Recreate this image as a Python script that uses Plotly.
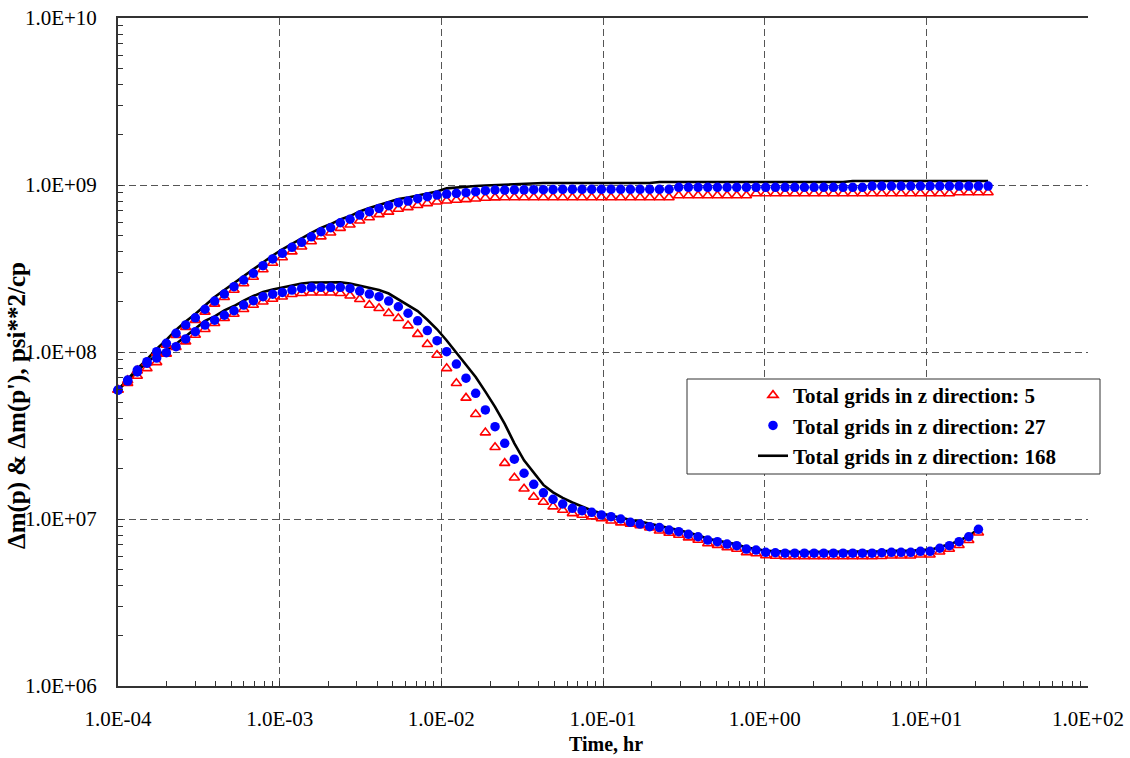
import plotly.graph_objects as go

# Simulation output times (hr)
times_hr = [
    1.00e-4, 1.148e-4, 1.317e-4, 1.511e-4, 1.735e-4, 1.991e-4, 2.285e-4, 2.622e-4, 3.009e-4, 3.453e-4,
    3.963e-4, 4.548e-4, 5.220e-4, 5.990e-4, 6.875e-4, 7.889e-4, 9.054e-4, 1.039e-3, 1.192e-3, 1.368e-3,
    1.570e-3, 1.802e-3, 2.068e-3, 2.373e-3, 2.724e-3, 3.126e-3, 3.587e-3, 4.117e-3, 4.724e-3, 5.422e-3,
    6.223e-3, 7.141e-3, 8.195e-3, 9.406e-3, 1.079e-2, 1.239e-2, 1.421e-2, 1.631e-2, 1.872e-2, 2.149e-2,
    2.466e-2, 2.830e-2, 3.248e-2, 3.728e-2, 4.278e-2, 4.909e-2, 5.634e-2, 6.466e-2, 7.421e-2, 8.516e-2,
    9.772e-2, 0.1121, 0.1287, 0.1477, 0.1695, 0.1945, 0.2233, 0.2562, 0.2940, 0.3374,
    0.3873, 0.4444, 0.5100, 0.5853, 0.6717, 0.7709, 0.8847, 1.015, 1.165, 1.337,
    1.535, 1.761, 2.021, 2.320, 2.662, 3.055, 3.506, 4.024, 4.618, 5.299,
    6.081, 6.979, 8.010, 9.192, 10.55, 12.11, 13.89, 15.94, 18.30, 21.00,
    24.10,
]

# Pseudo-pressure change, delta m(p), psi^2/cp
dm_5 = [
    5.92e7, 6.76e7, 7.73e7, 8.63e7, 9.86e7, 1.102e8, 1.259e8, 1.406e8, 1.549e8, 1.738e8,
    1.941e8, 2.128e8, 2.350e8, 2.570e8, 2.812e8, 3.119e8, 3.412e8, 3.681e8, 3.990e8, 4.266e8,
    4.592e8, 4.909e8, 5.176e8, 5.521e8, 5.781e8, 6.109e8, 6.383e8, 6.668e8, 6.902e8, 7.178e8,
    7.345e8, 7.568e8, 7.762e8, 7.943e8, 8.054e8, 8.128e8, 8.204e8, 8.279e8, 8.36e8, 8.40e8,
    8.41e8, 8.41e8, 8.41e8, 8.41e8, 8.41e8, 8.41e8, 8.41e8, 8.41e8, 8.41e8, 8.41e8,
    8.41e8, 8.41e8, 8.41e8, 8.41e8, 8.41e8, 8.41e8, 8.41e8, 8.41e8, 8.65e8, 8.65e8,
    8.65e8, 8.65e8, 8.65e8, 8.65e8, 8.65e8, 8.65e8, 8.89e8, 8.89e8, 8.89e8, 8.89e8,
    8.89e8, 8.89e8, 8.89e8, 8.89e8, 8.89e8, 8.89e8, 8.89e8, 8.89e8, 8.89e8, 8.89e8,
    8.89e8, 8.89e8, 8.89e8, 8.89e8, 8.89e8, 8.89e8, 8.89e8, 9.02e8, 9.02e8, 9.02e8,
    9.02e8,
]
dm_27 = [
    5.92e7, 6.79e7, 7.80e7, 8.75e7, 1.005e8, 1.127e8, 1.294e8, 1.452e8, 1.603e8, 1.803e8,
    2.018e8, 2.223e8, 2.460e8, 2.698e8, 2.958e8, 3.289e8, 3.606e8, 3.899e8, 4.236e8, 4.539e8,
    4.898e8, 5.248e8, 5.546e8, 5.943e8, 6.237e8, 6.607e8, 6.918e8, 7.244e8, 7.516e8, 7.834e8,
    8.017e8, 8.279e8, 8.511e8, 8.710e8, 8.831e8, 8.913e8, 8.995e8, 9.120e8, 9.247e8, 9.333e8,
    9.33e8, 9.35e8, 9.36e8, 9.37e8, 9.38e8, 9.39e8, 9.42e8, 9.42e8, 9.42e8, 9.42e8,
    9.42e8, 9.42e8, 9.42e8, 9.42e8, 9.42e8, 9.42e8, 9.42e8, 9.42e8, 9.68e8, 9.68e8,
    9.68e8, 9.68e8, 9.68e8, 9.68e8, 9.68e8, 9.68e8, 9.68e8, 9.68e8, 9.68e8, 9.68e8,
    9.68e8, 9.68e8, 9.68e8, 9.68e8, 9.68e8, 9.68e8, 9.68e8, 9.68e8, 9.86e8, 9.86e8,
    9.86e8, 9.86e8, 9.86e8, 9.86e8, 9.86e8, 9.86e8, 9.86e8, 9.86e8, 9.86e8, 9.86e8,
    9.86e8,
]
dm_168 = [
    5.92e7, 6.89e7, 7.96e7, 9.02e7, 1.042e8, 1.180e8, 1.355e8, 1.524e8, 1.690e8, 1.901e8,
    2.133e8, 2.350e8, 2.588e8, 2.851e8, 3.119e8, 3.459e8, 3.784e8, 4.121e8, 4.467e8, 4.786e8,
    5.164e8, 5.534e8, 5.834e8, 6.209e8, 6.516e8, 6.934e8, 7.278e8, 7.586e8, 7.907e8, 8.241e8,
    8.414e8, 8.650e8, 8.892e8, 9.141e8, 9.550e8, 9.683e8, 9.795e8, 9.863e8, 9.931e8, 1.000e9,
    1.005e9, 1.009e9, 1.014e9, 1.019e9, 1.028e9, 1.028e9, 1.028e9, 1.028e9, 1.028e9, 1.028e9,
    1.028e9, 1.028e9, 1.028e9, 1.028e9, 1.028e9, 1.028e9, 1.042e9, 1.042e9, 1.042e9, 1.042e9,
    1.042e9, 1.042e9, 1.042e9, 1.042e9, 1.042e9, 1.042e9, 1.042e9, 1.042e9, 1.042e9, 1.042e9,
    1.042e9, 1.042e9, 1.042e9, 1.042e9, 1.042e9, 1.042e9, 1.057e9, 1.057e9, 1.057e9, 1.057e9,
    1.057e9, 1.057e9, 1.057e9, 1.057e9, 1.057e9, 1.057e9, 1.057e9, 1.057e9, 1.057e9, 1.057e9,
    1.057e9,
]

# Pseudo-pressure derivative, delta m(p)', psi^2/cp
dmd_5 = [
    5.92e7, 6.50e7, 7.18e7, 7.98e7, 8.67e7, 9.73e7, 1.067e8, 1.153e8, 1.265e8, 1.368e8,
    1.486e8, 1.592e8, 1.690e8, 1.803e8, 1.910e8, 2.000e8, 2.075e8, 2.143e8, 2.218e8, 2.249e8,
    2.265e8, 2.265e8, 2.265e8, 2.249e8, 2.173e8, 2.070e8, 1.910e8, 1.828e8, 1.706e8, 1.592e8,
    1.439e8, 1.279e8, 1.112e8, 9.59e7, 7.98e7, 6.50e7, 5.31e7, 4.24e7, 3.29e7, 2.69e7,
    2.16e7, 1.766e7, 1.517e7, 1.355e7, 1.265e7, 1.186e7, 1.132e7, 1.081e7, 1.057e7, 1.033e7,
    1.009e7, 9.77e6, 9.51e6, 9.33e6, 9.16e6, 8.87e6, 8.51e6, 8.24e6, 8.02e6, 7.73e6,
    7.48e6, 7.14e6, 6.98e6, 6.76e6, 6.61e6, 6.31e6, 6.22e6, 6.04e6, 6.00e6, 5.96e6,
    5.96e6, 5.96e6, 5.96e6, 5.96e6, 5.96e6, 5.96e6, 5.96e6, 5.96e6, 5.96e6, 5.98e6,
    6.03e6, 6.03e6, 6.03e6, 6.11e6, 6.11e6, 6.37e6, 6.61e6, 6.97e6, 7.46e6, 8.28e6,
]
dmd_27 = [
    5.92e7, 6.70e7, 7.59e7, 8.55e7, 9.20e7, 9.91e7, 1.076e8, 1.197e8, 1.324e8, 1.45e8,
    1.55e8, 1.66e8, 1.766e8, 1.910e8, 2.028e8, 2.143e8, 2.218e8, 2.275e8, 2.350e8, 2.404e8,
    2.438e8, 2.438e8, 2.438e8, 2.438e8, 2.404e8, 2.317e8, 2.223e8, 2.143e8, 2.018e8, 1.866e8,
    1.706e8, 1.538e8, 1.343e8, 1.169e8, 1.005e8, 8.47e7, 6.97e7, 5.66e7, 4.50e7, 3.57e7,
    2.84e7, 2.28e7, 1.879e7, 1.614e7, 1.435e7, 1.312e7, 1.230e7, 1.159e7, 1.122e7, 1.096e7,
    1.057e7, 1.033e7, 1.000e7, 9.55e6, 9.33e6, 8.99e6, 8.89e6, 8.59e6, 8.39e6, 8.09e6,
    7.83e6, 7.48e6, 7.31e6, 7.08e6, 6.92e6, 6.61e6, 6.52e6, 6.32e6, 6.28e6, 6.24e6,
    6.24e6, 6.24e6, 6.24e6, 6.24e6, 6.24e6, 6.24e6, 6.24e6, 6.24e6, 6.24e6, 6.28e6,
    6.32e6, 6.32e6, 6.32e6, 6.40e6, 6.40e6, 6.68e6, 6.92e6, 7.31e6, 7.83e6, 8.67e6,
]
dmd_168 = [
    5.92e7, 6.75e7, 7.69e7, 8.71e7, 9.53e7, 1.021e8, 1.117e8, 1.247e8, 1.384e8, 1.535e8,
    1.633e8, 1.774e8, 1.884e8, 2.032e8, 2.163e8, 2.286e8, 2.366e8, 2.438e8, 2.518e8, 2.570e8,
    2.606e8, 2.612e8, 2.612e8, 2.612e8, 2.570e8, 2.500e8, 2.438e8, 2.350e8, 2.239e8, 2.061e8,
    1.901e8, 1.758e8, 1.560e8, 1.368e8, 1.172e8, 9.95e7, 8.36e7, 7.08e7, 5.79e7, 4.69e7,
    3.71e7, 2.84e7, 2.244e7, 1.884e7, 1.600e7, 1.445e7, 1.337e7, 1.256e7, 1.191e7, 1.125e7,
    1.081e7, 1.045e7, 1.021e7, 9.85e6, 9.65e6, 9.40e6, 9.16e6, 8.83e6, 8.59e6, 8.28e6,
    8.00e6, 7.62e6, 7.45e6, 7.21e6, 7.05e6, 6.73e6, 6.64e6, 6.44e6, 6.40e6, 6.35e6,
    6.35e6, 6.35e6, 6.35e6, 6.35e6, 6.35e6, 6.35e6, 6.35e6, 6.35e6, 6.35e6, 6.40e6,
    6.44e6, 6.44e6, 6.44e6, 6.53e6, 6.53e6, 6.79e6, 7.05e6, 7.41e6, 7.91e6, 8.71e6,
]

x_tick_vals = [1e-4, 1e-3, 1e-2, 1e-1, 1e0, 1e1, 1e2]
x_tick_text = ["1.0E-04", "1.0E-03", "1.0E-02", "1.0E-01", "1.0E+00", "1.0E+01", "1.0E+02"]
y_tick_vals = [1e6, 1e7, 1e8, 1e9, 1e10]
y_tick_text = ["1.0E+06", "1.0E+07", "1.0E+08", "1.0E+09", "1.0E+10"]

series_names = [
    "Total grids in z direction: 5",
    "Total grids in z direction: 27",
    "Total grids in z direction: 168",
]

SERIF = "Liberation Serif, Times New Roman, serif"

# Plot-area geometry in pixels
W, H = 1130, 758
L_M, R_M, T_M, B_M = 118, 42, 18, 72
PW, PH = W - L_M - R_M, H - T_M - B_M


def px_x(px):
    return (px - L_M) / PW


def px_y(py):
    return (H - B_M - py) / PH


def both_curves(pressure, derivative):
    """Join the delta-m(p) and derivative curves into one trace, split by a gap."""
    xs = times_hr[:len(pressure)] + [None] + times_hr[:len(derivative)]
    ys = list(pressure) + [None] + list(derivative)
    return xs, ys


fig = go.Figure()

# Finest grid drawn as a solid line underneath the markers
x168, y168 = both_curves(dm_168, dmd_168)
fig.add_trace(go.Scatter(
    x=x168, y=y168, mode="lines", name=series_names[2],
    line=dict(color="black", width=2.6), connectgaps=False, legendrank=3,
))

x5, y5 = both_curves(dm_5, dmd_5)
fig.add_trace(go.Scatter(
    x=x5, y=y5, mode="markers", name=series_names[0],
    marker=dict(symbol="triangle-up-open", size=9, color="#FF0000", line=dict(width=1.6, color="#FF0000")),
    cliponaxis=False, legendrank=1,
))

x27, y27 = both_curves(dm_27, dmd_27)
fig.add_trace(go.Scatter(
    x=x27, y=y27, mode="markers", name=series_names[1],
    marker=dict(symbol="circle", size=9.5, color="#0000FF"),
    cliponaxis=False, legendrank=2,
))

minor_x = [m * 10.0 ** e for e in range(-4, 2) for m in range(2, 10)]
minor_y = [m * 10.0 ** e for e in range(6, 10) for m in range(2, 10)]

axis_style = dict(
    showline=True, linecolor="#333333", linewidth=2, automargin=False,
    ticks="inside", ticklen=5, tickcolor="#333333", tickwidth=1,
    showgrid=True, gridcolor="#555555", gridwidth=1, griddash="7px,4px",
    zeroline=False, tickfont=dict(family=SERIF, size=21, color="black"),
)

fig.update_xaxes(
    type="log", range=[-4, 2], tickmode="array",
    tickvals=x_tick_vals, ticktext=x_tick_text, mirror=True,
    minor=dict(tickmode="array", tickvals=minor_x, ticks="inside", ticklen=5,
               tickcolor="#333333", showgrid=False),
    ticklabelstandoff=13, **axis_style,
)
fig.update_yaxes(
    type="log", range=[6, 10], tickmode="array",
    tickvals=y_tick_vals, ticktext=y_tick_text,
    minor=dict(tickmode="array", tickvals=minor_y, ticks="inside", ticklen=5,
               tickcolor="#333333", showgrid=False),
    ticklabelstandoff=15, **axis_style,
)

# Legend frame
fig.add_shape(
    type="rect", xref="paper", yref="paper",
    x0=px_x(687), x1=px_x(1100), y0=px_y(474), y1=px_y(379),
    fillcolor="white", line=dict(color="#333333", width=1), layer="above",
)

fig.add_annotation(
    text="<b>Time, hr</b>", xref="paper", yref="paper",
    x=px_x(606), y=px_y(744), xanchor="center", yanchor="middle",
    showarrow=False, font=dict(family=SERIF, size=20, color="black"),
)
fig.add_annotation(
    text="<b>\u0394m(p) & \u0394m(p'), psi**2/cp</b>", xref="paper", yref="paper",
    x=px_x(17), y=px_y(406), xanchor="center", yanchor="middle",
    textangle=-90, showarrow=False, font=dict(family=SERIF, size=25, color="black"),
)

fig.update_layout(
    width=W, height=H,
    margin=dict(l=L_M, r=R_M, t=T_M, b=B_M, autoexpand=False),
    paper_bgcolor="white", plot_bgcolor="white",
    font=dict(family=SERIF, color="black", size=21),
    showlegend=True,
    legend=dict(
        x=px_x(753), y=px_y(375), xanchor="left", yanchor="top",
        bgcolor="rgba(0,0,0,0)", borderwidth=0,
        font=dict(family=SERIF, size=21, color="black", weight="bold"),
    ),
)

fig.write_html("out.html")
